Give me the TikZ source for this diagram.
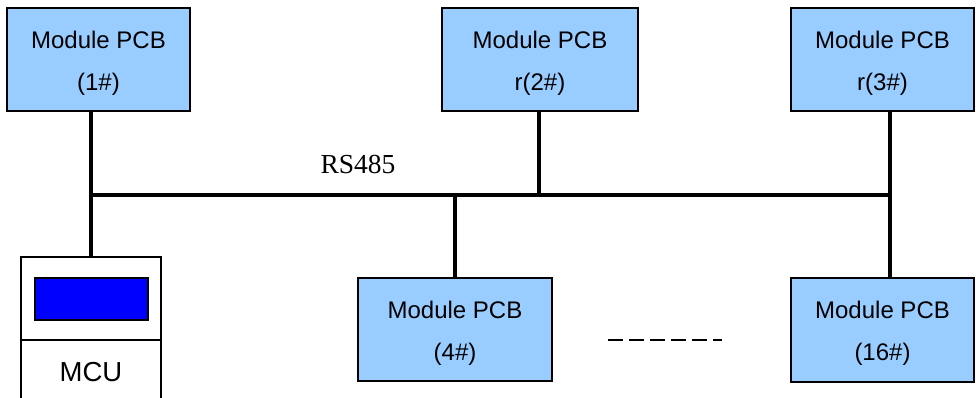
\documentclass[tikz,border=0pt]{standalone}
\usepackage{fontspec}
\setmainfont{Liberation Sans}
\newfontfamily\serifrm{Liberation Serif}
\tikzset{
  x=1pt,y=-1pt,
  pcb/.style={draw=black,line width=1.6pt,fill=pcbblue,inner sep=0pt,outer sep=0pt,anchor=north west,align=center,text height=66pt,font=\fontsize{24}{42}\selectfont},
  plain/.style={draw=black,line width=1.6pt,fill=white,inner sep=0pt,outer sep=0pt,anchor=north west},
  wire/.style={draw=black,line width=3.6pt},
}
\definecolor{pcbblue}{HTML}{99CCFF}
\begin{document}
\begin{tikzpicture}
\useasboundingbox (0,0) rectangle (976,398);
\node[pcb,minimum width=183pt,minimum height=103pt] (m1) at (7,8) {Module PCB\\(1\#)};
\node[pcb,minimum width=196pt,minimum height=103pt] (m2) at (442,8) {Module PCB\\r(2\#)};
\node[pcb,minimum width=183pt,minimum height=103pt] (m3) at (791,8) {Module PCB\\r(3\#)};
\node[pcb,minimum width=194pt,minimum height=103pt] (m4) at (358,278) {Module PCB\\(4\#)};
\node[pcb,minimum width=183pt,minimum height=104pt] (m16) at (791,278) {Module PCB\\(16\#)};
\node[plain,minimum width=140pt,minimum height=83pt] (mcutop) at (21,257) {};
\node[plain,minimum width=140pt,minimum height=70pt] (mcubot) at (21,340) {};
\node[font=\fontsize{27.5}{30}\selectfont] (mculabel) at (91,372) {MCU};
\node[draw=black,line width=1.4pt,fill=blue,inner sep=0pt,outer sep=0pt,anchor=north west,minimum width=113pt,minimum height=42pt] (lcd) at (35,278) {};
\node[font=\serifrm\fontsize{27.5}{30}\selectfont] (rs) at (358,164) {RS485};
\coordinate (b1) at (91,195);
\coordinate (b4) at (455,195);
\coordinate (b2) at (539,195);
\coordinate (b3) at (890,195);
\coordinate (d1) at (608,340);
\coordinate (d2) at (722,340);
\draw[wire] (b1) -- (b3);
\draw[wire] (m1.south -| b1) -- (mcutop.north -| b1);
\draw[wire] (m2.south -| b2) -- (b2);
\draw[wire] (m3.south -| b3) -- (m16.north -| b3);
\draw[wire] (b4) -- (m4.north -| b4);
\draw[black,line width=1.5pt,dash pattern=on 15pt off 6pt] (d1) -- (d2);
\end{tikzpicture}
\end{document}
